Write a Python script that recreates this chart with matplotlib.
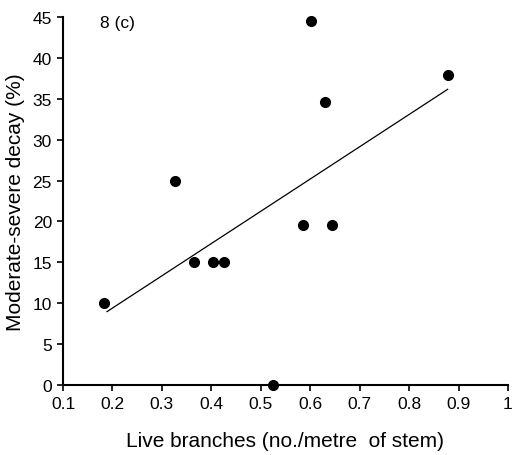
import matplotlib
matplotlib.use("Agg")
import matplotlib.pyplot as plt
import numpy as np

plt.rcParams['font.family'] = ['Liberation Sans', 'DejaVu Sans']

# Data
live_branches = [0.183, 0.326, 0.365, 0.403, 0.425, 0.524, 0.585, 0.601, 0.629, 0.645, 0.878]
decay_pct = [10, 25, 15, 15, 15, 0, 19.6, 44.5, 34.6, 19.6, 37.9]

x_ticks = [0.1, 0.2, 0.3, 0.4, 0.5, 0.6, 0.7, 0.8, 0.9, 1.0]
x_tick_labels = ["0.1", "0.2", "0.3", "0.4", "0.5", "0.6", "0.7", "0.8", "0.9", "1"]
y_ticks = [0, 5, 10, 15, 20, 25, 30, 35, 40, 45]

fig = plt.figure(figsize=(5.18, 4.56), dpi=100)
ax = fig.add_axes([63/518, 1 - 386/456, (508-63)/518, (386-18)/456])

ax.plot(live_branches, decay_pct, 'o', color='black', markersize=7, clip_on=False, zorder=3)

xa = np.array(live_branches)
ya = np.array(decay_pct)
slope, intercept = np.polyfit(xa, ya, 1)
xl = np.array([xa.min() + 0.006, xa.max()])
ax.plot(xl, slope * xl + intercept, color='black', linewidth=0.9)

ax.set_xlim(0.1, 1.0)
ax.set_ylim(0, 45)
ax.set_xticks(x_ticks)
ax.set_xticklabels(x_tick_labels)
ax.set_yticks(y_ticks)

for s in ['top', 'right']:
    ax.spines[s].set_visible(False)
for s in ['left', 'bottom']:
    ax.spines[s].set_linewidth(1.5)

ax.tick_params(axis='both', direction='out', length=4, width=1.2, labelsize=12.5, pad=4)

ax.set_xlabel("Live branches (no./metre  of stem)", fontsize=15, labelpad=14)
ax.set_ylabel("Moderate-severe decay (%)", fontsize=15, labelpad=5)

ax.text(0.175, 44.3, "8 (c)", fontsize=12.5, va='center', ha='left')

fig.savefig("out.png", dpi=100)
